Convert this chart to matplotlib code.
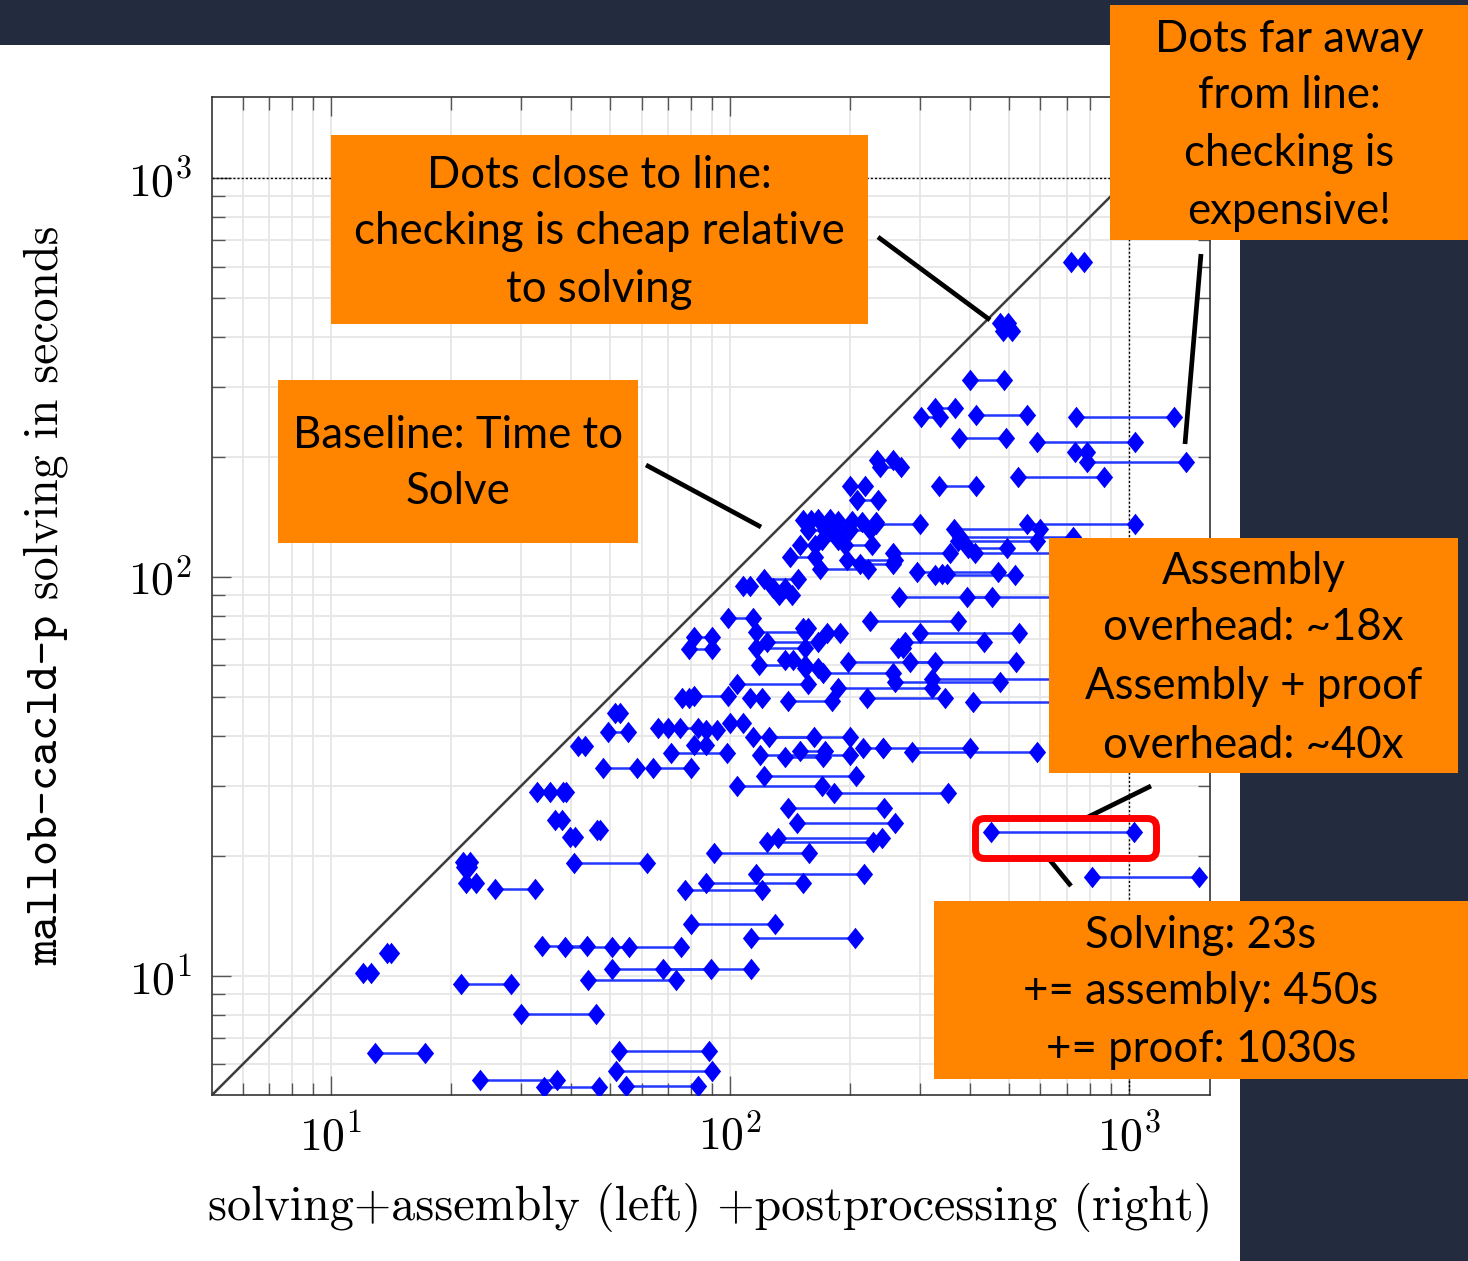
import os
import matplotlib
matplotlib.use("Agg")
import matplotlib.pyplot as plt
from matplotlib.font_manager import FontProperties
from matplotlib.patches import Rectangle, FancyBboxPatch
from matplotlib.lines import Line2D
from matplotlib.path import Path
from matplotlib.transforms import Affine2D
from matplotlib.ticker import LogLocator, FixedLocator, FixedFormatter, NullFormatter

# ---------------------------------------------------------------------------
# data: per instance, solving+assembly time (left end), solving+assembly+
# postprocessing time (right end), and the pure solving time (y), seconds
# ---------------------------------------------------------------------------
left_time = [
    716, 475, 484, 400, 327, 301, 414, 737, 375, 588, 733, 785, 527, 334, 234, 238, 200, 208,
    152, 166, 186, 214, 232, 157, 181, 200, 170, 150, 194, 141, 196, 168,
    108, 122, 128, 133, 99, 152, 175, 224,
    555, 364, 377, 373, 395, 411, 256, 212, 294, 327, 340, 265, 393,
    300, 275, 264, 283, 197, 171, 259, 321, 186, 221, 407, 242, 286, 182,
    116, 81, 79, 124, 116, 118, 137, 154, 104, 81, 112, 140,
    114, 125, 81, 71, 119, 137, 150, 216,
    76, 51.5, 49.5, 41.6, 66, 75, 87, 100, 48, 64, 38.2, 32.8,
    122, 104, 140, 147, 132, 450, 807, 124,
    36.4, 39.7, 46.4, 40.7, 91, 116, 87, 77, 80, 113,
    33.8, 38.6, 50.6, 50.6, 68, 44.1, 30, 52.7, 51.8, 23.6, 34.2, 54.9,
    21.4, 21.5, 21.8, 25.8, 13.8, 12.0, 21.2, 12.9,
]
right_time = [
    772, 498, 509, 486, 366, 336, 555, 1297, 492, 1036, 785, 1390, 866, 414, 256, 268, 218, 235,
    160, 178, 202, 232, 300, 173, 194, 224, 186, 163, 227, 163, 259, 222,
    112, 148, 137, 143, 114, 157, 189, 373,
    1036, 599, 724, 588, 495, 799, 356, 256, 470, 518, 350, 799, 454,
    530, 433, 272, 521, 327, 256, 475, 799, 321, 346, 776, 400, 588, 352,
    154, 90, 90, 166, 154, 154, 144, 166, 157, 99, 120, 180,
    162, 200, 87, 98, 200, 171, 173, 242,
    79, 53, 55.5, 43.3, 70, 83, 93, 108, 58.5, 80, 38.8, 35.4,
    207, 170, 243, 259, 240, 1030, 1496, 228,
    37.9, 40.9, 47.2, 62, 158, 217, 152, 120, 130, 206,
    43.8, 55.9, 75.4, 89.6, 113, 73.3, 46.2, 88.6, 90.2, 36.9, 47, 83.2,
    22.3, 22.2, 23.1, 32.5, 14.1, 12.6, 28.3, 17.2,
]
solve_time = [
    616, 433, 414, 312, 265, 252, 255, 252, 223, 218, 206, 194, 178, 169, 196, 189, 169, 156,
    139, 140, 138, 137, 136, 131, 129, 131, 124, 120, 120, 112, 110, 105,
    95, 99, 94, 90, 79, 74.5, 72.4, 77.6,
    136, 132, 126, 123, 118, 115, 115, 108, 103, 101, 102, 89, 89,
    72.4, 68.7, 66.4, 61.3, 61.3, 57.5, 54.6, 55.5, 52.7, 49.8, 48.6, 37.3, 36.4, 28.8,
    72.8, 70.8, 66, 68.7, 66.4, 60.2, 62, 59.2, 54, 50.3, 49.8, 48.9,
    39.7, 39.7, 37.9, 36.2, 35.8, 35.4, 36.6, 37.3,
    49.8, 45.6, 40.9, 37.7, 41.9, 41.9, 41.4, 43.1, 33.2, 33.2, 28.9, 28.9,
    31.7, 29.9, 26.4, 24.2, 22.2, 23, 17.7, 21.6,
    24.6, 22.3, 23.2, 19.2, 20.3, 18, 17.1, 16.4, 13.5, 12.45,
    11.9, 11.8, 11.8, 10.4, 10.4, 9.77, 8.03, 6.49, 5.78, 5.49, 5.27, 5.29,
    19.3, 18.8, 17.1, 16.5, 11.4, 10.2, 9.55, 6.41,
]

axis_limits = (5.03, 1596)
major_ticks = [10, 100, 1000]
major_labels = [r"$10^{1}$", r"$10^{2}$", r"$10^{3}$"]
reference_time = 1000

x_label = "solving+assembly (left) +postprocessing (right)"
y_label_tt = "mallob-cacld-p"
y_label_rm = " solving in seconds"

callouts = [
    # (box left, top, right, bottom, text lines, line centre y's)
    (331, 135, 868, 324, ["Dots close to line:", "checking is cheap relative", "to solving"], [176, 232, 290]),
    (1110, 5, 1468, 240, ["Dots far away", "from line:", "checking is", "expensive!"], [40, 96, 154, 212]),
    (278, 380, 638, 543, ["Baseline: Time to", "Solve"], [435, 492]),
    (1049, 538, 1458, 773, ["Assembly", "overhead: ~18x", "Assembly + proof", "overhead: ~40x"], [572, 628, 687, 745]),
    (934, 901, 1468, 1079, ["Solving: 23s", "+= assembly: 450s", "+= proof: 1030s"], [935, 992, 1050]),
]
pointers = [
    ((878, 237), (990, 320)),
    ((646, 465), (761, 527)),
    ((1201, 254), (1185, 444)),
    ((1151, 786), (1086, 818)),
    ((1049, 859), (1071, 886)),
]

# ---------------------------------------------------------------------------
W, H = 1468, 1261
NAVY = "#232c3e"
ORANGE = "#ff8500"
BLUE = "#0000ff"
LINE_BLUE = "#2238ff"

plt.rcParams["mathtext.fontset"] = "cm"
fontdir = os.path.join(matplotlib.get_data_path(), "fonts", "ttf")
cm_rm = FontProperties(fname=os.path.join(fontdir, "cmr10.ttf"))
cm_tt = FontProperties(fname=os.path.join(fontdir, "cmtt10.ttf"))

fig = plt.figure(figsize=(W / 100, H / 100), dpi=100)
fig.patch.set_facecolor("white")
# pixel coordinates with the origin at the top-left corner of the figure
px = Affine2D().scale(1 / W, -1 / H).translate(0, 1) + fig.transFigure

ax = fig.add_axes([212 / W, (H - 1095) / H, 998 / W, 998 / H])
ax.set_xscale("log")
ax.set_yscale("log")
ax.set_xlim(*axis_limits)
ax.set_ylim(*axis_limits)

for axis in (ax.xaxis, ax.yaxis):
    axis.set_major_locator(FixedLocator(major_ticks))
    axis.set_major_formatter(FixedFormatter(major_labels))
    axis.set_minor_locator(LogLocator(base=10, subs=range(2, 10)))
    axis.set_minor_formatter(NullFormatter())

ax.grid(which="both", color="#e6e6e6", lw=1.3, zorder=0)
ax.set_axisbelow(True)
ax.tick_params(which="both", direction="in", top=True, right=True, color="#555555", width=1.0)
ax.tick_params(which="major", length=14, labelsize=33, pad=14)
ax.tick_params(which="minor", length=9)
ax.tick_params(axis="y", which="major", pad=14)
for sp in ax.spines.values():
    sp.set_color("#333333")
    sp.set_linewidth(1.2)

# identity line and the 1000 s reference lines
ax.plot(axis_limits, axis_limits, color="#3c3c3c", lw=1.8, zorder=2)
ax.axhline(reference_time, color="black", lw=1.0, ls=(0, (1.5, 1.5)), zorder=2)
ax.axvline(reference_time, color="black", lw=1.0, ls=(0, (1.5, 1.5)), zorder=2)

# horizontal segments between the two measurements of each instance
for xl, xr, y in zip(left_time, right_time, solve_time):
    ax.plot([xl, xr], [y, y], color=LINE_BLUE, lw=1.8, zorder=3, solid_capstyle="butt")

diamond = Path([(0, 1), (0.8, 0), (0, -1), (-0.8, 0), (0, 1)],
               [Path.MOVETO, Path.LINETO, Path.LINETO, Path.LINETO, Path.CLOSEPOLY])
ax.plot(left_time + right_time, solve_time + solve_time, ls="none", marker=diamond,
        ms=15.5, color=BLUE, mec="none", zorder=4)

# background frame of the slide
fig.add_artist(Rectangle((0, 0), W, 45, transform=px, color=NAVY, lw=0, zorder=0.5))
fig.add_artist(Rectangle((1240, 0), W - 1240, H, transform=px, color=NAVY, lw=0, zorder=0.5))

# axis labels
fig.text(710 / W, 1 - 1207 / H, x_label, fontproperties=cm_rm, size=34.6,
         ha="center", va="center")
t1 = fig.text(57 / W, 1 - 965 / H, y_label_tt, fontproperties=cm_tt, size=34.4,
              rotation=90, rotation_mode="anchor", ha="left", va="baseline")
fig.canvas.draw()
bb = t1.get_window_extent(fig.canvas.get_renderer())
fig.text(57 / W, bb.y1 / fig.bbox.height, y_label_rm, fontproperties=cm_rm, size=34.4,
         rotation=90, rotation_mode="anchor", ha="left", va="baseline")

# call-out boxes
for x0, y0, x1, y1, lines, ys in callouts:
    fig.add_artist(Rectangle((x0, y0), x1 - x0, y1 - y0, transform=px,
                             facecolor=ORANGE, edgecolor="none", zorder=3))
    cx = (x0 + x1) / 2
    for s, yy in zip(lines, ys):
        fig.text(cx / W, 1 - yy / H, s, family="Lato", size=31.5, color="black",
                 ha="center", va="center", zorder=4)

for (xa, ya), (xb, yb) in pointers:
    fig.add_artist(Line2D([xa, xb], [ya, yb], transform=px, color="black", lw=3.4,
                          solid_capstyle="butt", zorder=3.5))

fig.add_artist(FancyBboxPatch((975.5, 818.5), 181, 40, boxstyle="round,pad=0,rounding_size=9",
                              transform=px, facecolor="none", edgecolor="#ff0000", lw=5,
                              zorder=3.5))

fig.savefig("out.png", dpi=100, facecolor=fig.get_facecolor())
